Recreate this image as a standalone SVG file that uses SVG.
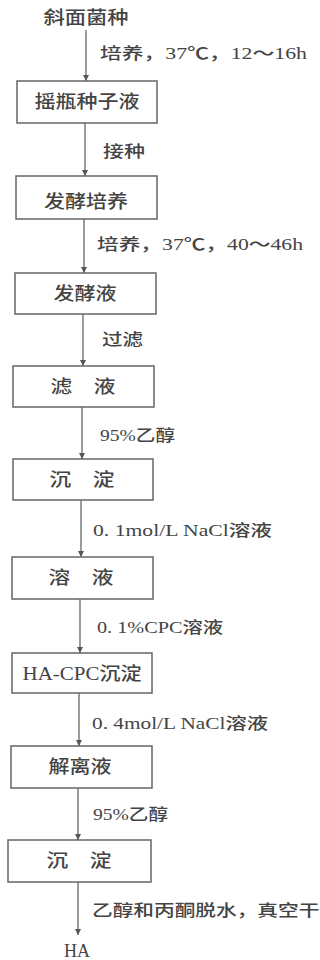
<svg xmlns="http://www.w3.org/2000/svg" width="320" height="960" viewBox="0 0 320 960">
<defs>
<style>
.box{fill:#fff;stroke:#666;stroke-width:1.5}
.node{font-family:"Noto Sans CJK SC","Liberation Serif",serif;font-size:18px;font-weight:500;fill:#444;text-anchor:middle}
.lbl{font-family:"Liberation Serif","Noto Sans CJK SC",serif;font-size:16px;font-weight:500;fill:#444}
.ln{stroke:#666;stroke-width:1.3;fill:none;marker-end:url(#ah)}
</style>
<marker id="ah" viewBox="0 0 6 12" refX="6" refY="6" markerWidth="6" markerHeight="12" markerUnits="userSpaceOnUse" orient="auto">
<path d="M0,3 L6,6 L0,9 Z" fill="#555"/>
</marker>
</defs>
<rect width="320" height="960" fill="#fff"/>
<g id="connectors">
<line class="ln" x1="86" y1="30" x2="86" y2="81"/>
<line class="ln" x1="85" y1="123" x2="85" y2="176"/>
<line class="ln" x1="84" y1="219" x2="84" y2="273"/>
<line class="ln" x1="83" y1="314" x2="83" y2="366"/>
<line class="ln" x1="82" y1="407" x2="82" y2="459"/>
<line class="ln" x1="81" y1="500" x2="81" y2="557"/>
<line class="ln" x1="80" y1="599" x2="80" y2="653"/>
<line class="ln" x1="79" y1="693" x2="79" y2="746"/>
<line class="ln" x1="78" y1="788" x2="78" y2="840"/>
<line class="ln" x1="78" y1="882" x2="78" y2="935"/>
<text class="lbl" x="100" y="59" textLength="207" lengthAdjust="spacingAndGlyphs">培养，37℃，12～16h</text>
<text class="lbl" x="103" y="157" textLength="42" lengthAdjust="spacingAndGlyphs">接种</text>
<text class="lbl" x="97" y="250" textLength="206" lengthAdjust="spacingAndGlyphs">培养，37℃，40～46h</text>
<text class="lbl" x="102" y="345" textLength="41" lengthAdjust="spacingAndGlyphs">过滤</text>
<text class="lbl" x="100" y="441" textLength="75" lengthAdjust="spacingAndGlyphs">95%乙醇</text>
<text class="lbl" x="93" y="536" textLength="179" lengthAdjust="spacingAndGlyphs">0. 1mol/L NaCl溶液</text>
<text class="lbl" x="97" y="633" textLength="126" lengthAdjust="spacingAndGlyphs">0. 1%CPC溶液</text>
<text class="lbl" x="92" y="729" textLength="176" lengthAdjust="spacingAndGlyphs">0. 4mol/L NaCl溶液</text>
<text class="lbl" x="93" y="820" textLength="75" lengthAdjust="spacingAndGlyphs">95%乙醇</text>
<text class="lbl" x="92" y="916" textLength="248" lengthAdjust="spacingAndGlyphs">乙醇和丙酮脱水，真空干燥</text>
</g>
<g id="start"><text class="node" x="86" y="24" textLength="85" lengthAdjust="spacingAndGlyphs">斜面菌种</text></g>
<g id="n1"><rect class="box" x="17" y="81" width="140" height="42"/><text class="node" x="87" y="108" textLength="105" lengthAdjust="spacingAndGlyphs">摇瓶种子液</text></g>
<g id="n2"><rect class="box" x="16" y="176" width="141" height="43"/><text class="node" x="86" y="208" textLength="84" lengthAdjust="spacingAndGlyphs">发酵培养</text></g>
<g id="n3"><rect class="box" x="15" y="273" width="141" height="41"/><text class="node" x="85" y="300" textLength="63" lengthAdjust="spacingAndGlyphs">发酵液</text></g>
<g id="n4"><rect class="box" x="13" y="366" width="141" height="41"/><text class="node" x="83" y="393" textLength="65" lengthAdjust="spacingAndGlyphs">滤　液</text></g>
<g id="n5"><rect class="box" x="13" y="459" width="140" height="41"/><text class="node" x="82" y="486" textLength="65" lengthAdjust="spacingAndGlyphs">沉　淀</text></g>
<g id="n6"><rect class="box" x="12" y="557" width="141" height="42"/><text class="node" x="81" y="584" textLength="65" lengthAdjust="spacingAndGlyphs">溶　液</text></g>
<g id="n7"><rect class="box" x="12" y="653" width="140" height="40"/><text class="node" x="82" y="680" textLength="119" lengthAdjust="spacingAndGlyphs" style="font-family:'Liberation Serif','Noto Sans CJK SC',serif">HA-CPC沉淀</text></g>
<g id="n8"><rect class="box" x="11" y="746" width="141" height="42"/><text class="node" x="80" y="773" textLength="63" lengthAdjust="spacingAndGlyphs">解离液</text></g>
<g id="n9"><rect class="box" x="8" y="840" width="143" height="42"/><text class="node" x="79" y="867" textLength="65" lengthAdjust="spacingAndGlyphs">沉　淀</text></g>
<g id="end"><text class="node" x="77" y="957" style="font-family:'Liberation Serif',serif">HA</text></g>
</svg>
